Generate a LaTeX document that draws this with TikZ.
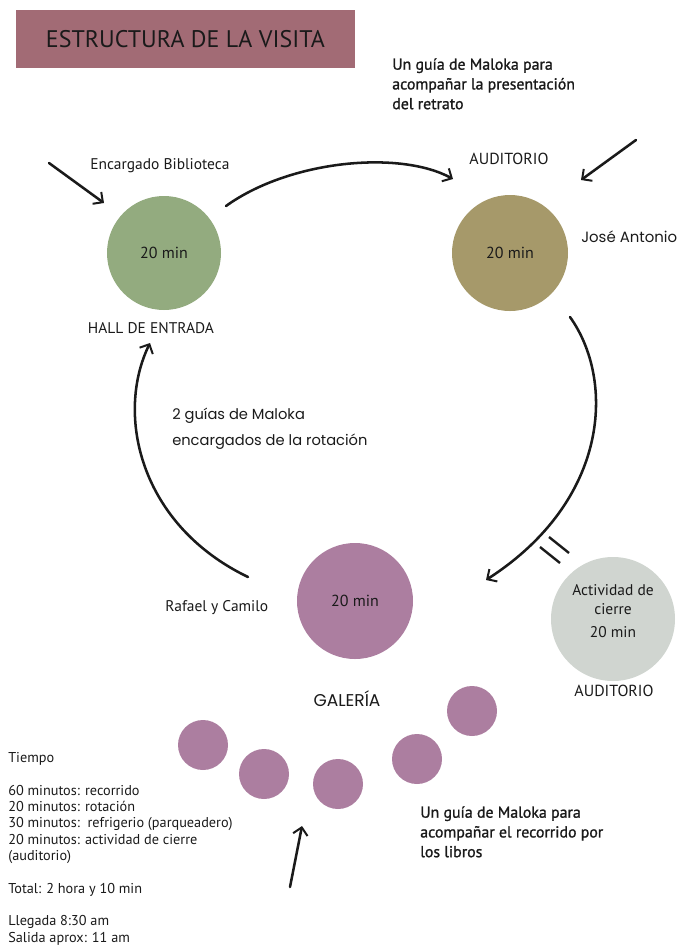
\documentclass[tikz,border=0pt]{standalone}
\usepackage{fontspec}
\setmainfont{PT Sans}
\newfontfamily\geofont{Poppins}
\newfontfamily\semifont[FakeBold=1.2]{PT Sans}
\usetikzlibrary{arrows.meta}

\definecolor{tituloRosa}{RGB}{162,107,117}
\definecolor{hallVerde}{RGB}{147,171,127}
\definecolor{audOliva}{RGB}{166,153,106}
\definecolor{galMorado}{RGB}{172,126,160}
\definecolor{cierreGris}{RGB}{208,213,208}
\definecolor{tinta}{RGB}{26,26,26}

\tikzset{
  sala/.style={circle,minimum size=#1*0.75pt,inner sep=0pt,draw=none,text=tinta,font=\fontsize{12}{14}\selectfont},
  libro/.style={circle,fill=galMorado,minimum size=37.5pt,inner sep=0pt,draw=none},
  flecha/.style={draw=tinta,line width=1.9,line cap=round,-{Straight Barb[length=5.5pt,width=11pt,line width=1.5]}},
  texto/.style={inner sep=0pt,font=\fontsize{11.6}{13}\selectfont,text=tinta},
}

\begin{document}
\begin{tikzpicture}[x=0.75pt,y=0.75pt,yscale=-1,xscale=1]
	\useasboundingbox (0,0) rectangle (676,947);
	
	%Title
	\fill [tituloRosa] (16,10) rectangle (355,68);
	\node (titulo) at (185.5,39) [inner sep=0pt,text=tinta,font=\fontsize{18}{20}\selectfont] {ESTRUCTURA DE LA VISITA};
	
	%Rooms
	\node (hall) at (164,253) [sala=114,fill=hallVerde] {20 min};
	\node (auditorio) at (510,253) [sala=116,fill=audOliva] {20 min};
	\node (galeria) at (355,601) [sala=116,fill=galMorado] {20 min};
	\node (cierre) at (613,619) [sala=124,fill=cierreGris] {};
	\node (cierreTxt) at (613,611) [texto,align=center,font=\fontsize{11.6}{14.25}\selectfont] {Actividad de\\cierre\\[3.5pt]20 min};
	
	%Books
	\node (g1) at (203,745) [libro] {};
	\node (g2) at (264,774) [libro] {};
	\node (g3) at (338,784) [libro] {};
	\node (g4) at (417,759) [libro] {};
	\node (g5) at (472,711) [libro] {};
	
	%Arrow ends
	\coordinate (bibA) at (49,163);
	\coordinate (bibB) at (104,203);
	\coordinate (topA) at (226,206);
	\coordinate (topB) at (453,179);
	\coordinate (josA) at (636,140);
	\coordinate (josB) at (581,180);
	\coordinate (derA) at (570,317);
	\coordinate (derB) at (486,580);
	\coordinate (izqA) at (248,577);
	\coordinate (izqB) at (150,343);
	\coordinate (libA) at (290,887);
	\coordinate (libB) at (302,826);
	
	%Arrows
	\draw [flecha] (bibA) -- (bibB);
	\draw [flecha] (josA) -- (josB);
	\draw [flecha] (libA) -- (libB);
	\draw [flecha] (topA) .. controls (290,160) and (400,150) .. (topB);
	\draw [flecha] (derA) .. controls (615,380) and (610,500) .. (derB);
	\draw [flecha] (izqA) .. controls (140,525) and (115,415) .. (izqB);
	
	%Double line
	\draw [tinta,line width=1.8] (540,547) -- (560,563);
	\draw [tinta,line width=1.8] (549,537) -- (569,553);
	
	% Text Node
	\node (guiaTop) at (392,58) [texto,anchor=north west,align=left,font=\semifont\fontsize{11.9}{14.8}\selectfont] {Un guía de Maloka para\\acompañar la presentación\\del retrato};
	% Text Node
	\node (bibl) at (90,166) [texto,anchor=west] {Encargado Biblioteca};
	% Text Node
	\node (audTop) at (509,159) [texto,font=\fontsize{12}{14}\selectfont] {AUDITORIO};
	% Text Node
	\node (jose) at (581,237) [texto,anchor=west,font=\geofont\fontsize{11.2}{13}\selectfont] {José Antonio};
	% Text Node
	\node (hallLbl) at (151,328) [texto] {HALL DE ENTRADA};
	% Text Node
	\node (rotacion) at (172,408) [texto,anchor=north west,align=left,font=\geofont\fontsize{11}{19.5}\selectfont] {2 guías de Maloka\\encargados de la rotación};
	% Text Node
	\node (rafael) at (165,608) [texto,anchor=west] {Rafael y Camilo};
	% Text Node
	\node (galLbl) at (347,699) [texto,font=\geofont\fontsize{12.8}{14}\selectfont] {GALERÍA};
	% Text Node
	\node (audBot) at (614,691) [texto,font=\fontsize{12}{14}\selectfont] {AUDITORIO};
	% Text Node
	\node (tiempo) at (8,752) [texto,anchor=north west,align=left,font=\fontsize{10.7}{12.25}\selectfont] {Tiempo\\[12.25pt]60 minutos: recorrido\\20 minutos: rotación\\30 minutos:\ \ refrigerio (parqueadero)\\20 minutos: actividad de cierre\\(auditorio)\\[12.25pt]Total: 2 hora y 10 min\\[12.25pt]Llegada 8:30 am\\Salida aprox: 11 am};
	% Text Node
	\node (guiaBot) at (420,806) [texto,anchor=north west,align=left,font=\semifont\fontsize{11.9}{14.8}\selectfont] {Un guía de Maloka para\\acompañar el recorrido por\\los libros};
	
\end{tikzpicture}
\end{document}
